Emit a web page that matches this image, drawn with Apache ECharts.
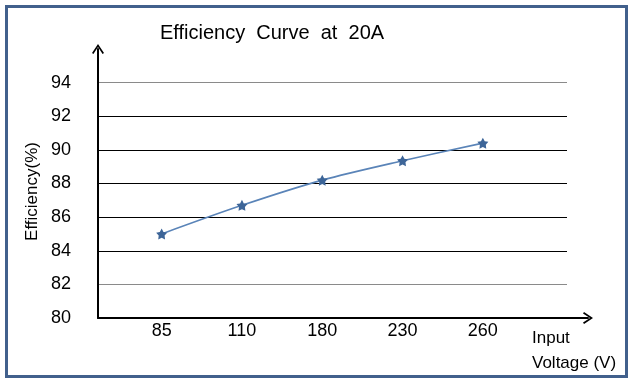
<!DOCTYPE html>
<html><head><meta charset="utf-8">
<script src="https://cdn.jsdelivr.net/npm/echarts@6/dist/echarts.min.js"></script>
<style>html,body{margin:0;padding:0;background:#fff}#c{width:635px;height:384px}</style>
</head><body><div id="c"></div>
<script>
const categories = ['85', '110', '180', '230', '260'];
const efficiency = [85.0, 86.7, 88.2, 89.35, 90.4];
const yTicks = [80, 82, 84, 86, 88, 90, 92, 94];
const titleText = 'Efficiency  Curve  at  20A';
const yName = 'Efficiency(%)';
const xName = 'Input\nVoltage (V)';

const FONT = '"Liberation Sans", Arial, sans-serif';
const chevron = 'path://M-6,9 L0,0 L6,9 L4.6,10 L0,3 L-4.6,10 Z';
const star = 'path://M0,-10 L3.2,-4.2 L9.5,-3.1 L5.1,1.6 L5.9,8.1 L0,5.3 L-5.9,8.1 L-5.1,1.6 L-9.5,-3.1 L-3.2,-4.2 Z';

const chart = echarts.init(document.getElementById('c'), null, {renderer: 'canvas'});
chart.setOption({
  animation: false,
  title: [
    {text: titleText, left: 267, top: 18, textAlign: 'center',
     textStyle: {fontFamily: FONT, fontSize: 20, fontWeight: 'normal', color: '#000'}},
    {text: xName, left: 527, top: 321,
     textStyle: {fontFamily: FONT, fontSize: 17, fontWeight: 'normal', color: '#000', lineHeight: 25}}
  ],
  graphic: [{type: 'rect', shape: {x: 6.5, y: 6.5, width: 620, height: 370},
    style: {fill: 'none', stroke: '#41608c', lineWidth: 3}, z: 100}],
  grid: [
    {left: 98, top: 49, width: 469, height: 269},
    {left: 98, top: 65, width: 490, height: 253},
    {left: 121.5, top: 49, width: 401.5, height: 269}
  ],
  xAxis: [
    {gridIndex: 0, type: 'value', show: false, min: 0, max: 1},
    {gridIndex: 1, type: 'value', min: 0, max: 1,
     axisLine: {show: true, symbol: ['none', chevron], symbolSize: [12, 10], lineStyle: {color: '#000', width: 2}},
     axisTick: {show: false}, axisLabel: {show: false}, splitLine: {show: false}},
    {gridIndex: 2, type: 'category', data: categories, boundaryGap: true,
     axisLine: {show: false}, axisTick: {show: false}, splitLine: {show: false},
     axisLabel: {margin: 4, fontFamily: FONT, fontSize: 18, color: '#000'}}
  ],
  yAxis: [
    {gridIndex: 0, type: 'value', min: 80, max: 96, interval: 2,
     axisLine: {show: true, symbol: ['none', chevron], symbolSize: [12, 10], lineStyle: {color: '#000', width: 2}},
     axisTick: {show: false},
     axisLabel: {margin: 27, fontFamily: FONT, fontSize: 18, color: '#000',
       formatter: v => yTicks.indexOf(v) >= 0 ? String(v) : ''},
     splitLine: {show: true, lineStyle: {width: 1,
       color: ['rgba(0,0,0,0)', '#8a8a8a', '#000', '#000', '#000', '#000', '#000', '#8a8a8a', 'rgba(0,0,0,0)']}}},
    {gridIndex: 1, type: 'value', min: 0, max: 1, name: yName, nameLocation: 'middle', nameGap: 57,
     nameTextStyle: {fontFamily: FONT, fontSize: 17, color: '#000'},
     axisLine: {show: false}, axisTick: {show: false}, axisLabel: {show: false}, splitLine: {show: false}},
    {gridIndex: 2, type: 'value', min: 80, max: 96, show: false}
  ],
  series: [{
    type: 'line', xAxisIndex: 2, yAxisIndex: 2, data: efficiency, smooth: 0.3,
    symbol: star, symbolSize: 11,
    lineStyle: {color: '#5a84b8', width: 1.6},
    itemStyle: {color: '#3d6598'}
  }]
});
</script></body></html>
